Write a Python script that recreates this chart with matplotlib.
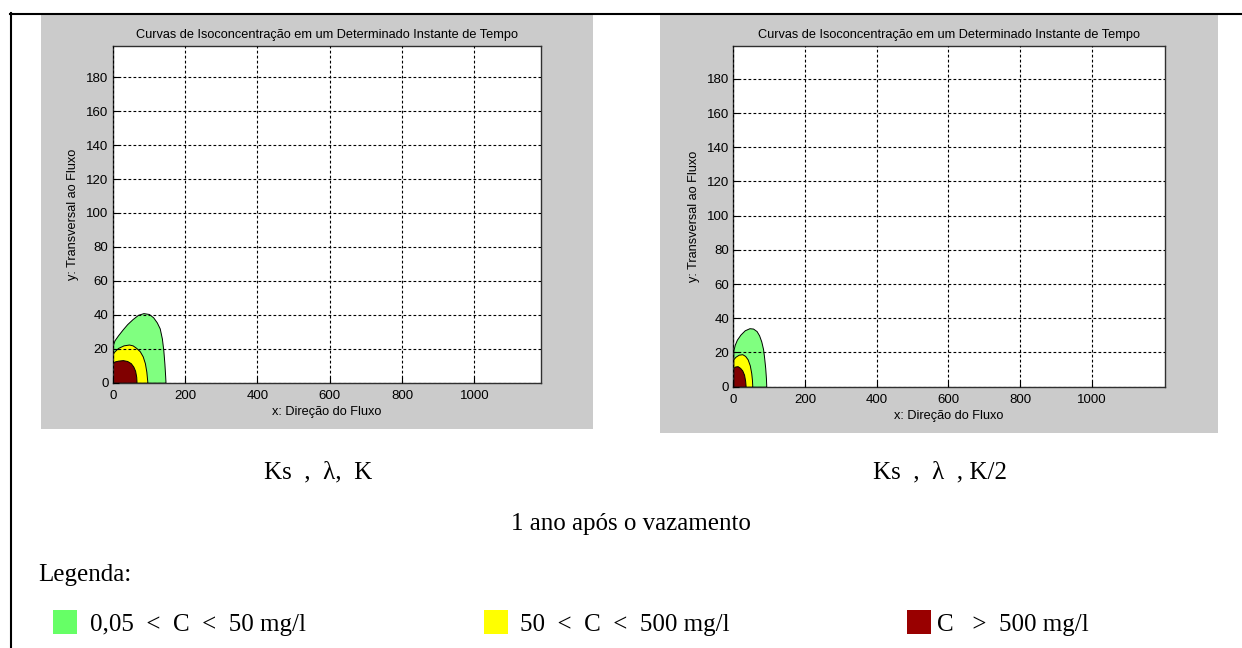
import matplotlib
matplotlib.use('Agg')
import matplotlib.pyplot as plt
from matplotlib.patches import Rectangle
from matplotlib.lines import Line2D

W, H = 1242, 648

# plume outlines (x, y) -- left panel: Ks, lambda, K
left_green_x = [0, 5, 15, 28, 40, 55, 70, 85, 100, 112, 122, 130, 136, 140, 143, 145, 146]
left_green_y = [22, 25, 28, 31.5, 34.5, 37.5, 40, 41, 40.5, 38.5, 35.5, 32, 26, 19, 11, 4, 0]
left_yellow_x = [0, 5, 15, 30, 45, 55, 65, 75, 83, 89, 93, 95, 96]
left_yellow_y = [17, 18.5, 20.5, 22, 22.5, 22, 20.5, 18.5, 15.5, 11.5, 6.5, 2, 0]
left_red_x = [0, 5, 15, 28, 40, 50, 57, 62, 65, 66]
left_red_y = [11.5, 12.5, 13, 13.3, 12.8, 11.5, 9.5, 7, 3.5, 0]

# right panel: Ks, lambda, K/2
right_green_x = [0, 4, 10, 20, 32, 45, 55, 65, 72, 78, 83, 86, 89, 91, 92]
right_green_y = [21, 24.5, 27.5, 30.5, 33, 34.2, 34, 32.5, 30, 26.5, 22, 17, 11, 5, 0]
right_yellow_x = [0, 6, 15, 25, 33, 40, 46, 50, 52, 53]
right_yellow_y = [16, 17.5, 18.7, 19, 18, 16, 12.5, 8, 4, 0]
right_red_x = [0, 5, 12, 19, 25, 30, 33, 34.5]
right_red_y = [11, 11.8, 12, 11, 9.5, 7, 3.5, 0]

xticks = [0, 200, 400, 600, 800, 1000]
yticks = [0, 20, 40, 60, 80, 100, 120, 140, 160, 180]

title = 'Curvas de Isoconcentração em um Determinado Instante de Tempo'
captions = ['Ks  ,  λ,  K', 'Ks  ,  λ  , K/2']
subtitle = '1 ano após o vazamento'
legend_labels = ['0,05  <  C  <  50 mg/l', '50  <  C  <  500 mg/l', 'C   >  500 mg/l']
legend_colors = ['#66ff66', '#ffff00', '#990000']

fill_green = '#80ff80'
fill_yellow = '#ffff00'
fill_red = '#800000'


def fx(px):
    return px / W


def fy(py):
    return 1 - py / H


def panel(fig, box, ax_box, xmax, ymax, plumes):
    # gray matlab figure background
    x0, y0, x1, y1 = box
    fig.add_artist(Rectangle((fx(x0), fy(y1)), fx(x1 - x0), (y1 - y0) / H,
                             transform=fig.transFigure, facecolor='#cbcbcb',
                             edgecolor='none', zorder=0))
    a0, b0, a1, b1 = ax_box
    ax = fig.add_axes([fx(a0), fy(b1), fx(a1 - a0), (b1 - b0) / H])
    ax.set_facecolor('white')
    for xs, ys, c in plumes:
        ax.fill_between(xs, 0, ys, facecolor=c, edgecolor='black', linewidth=0.7, zorder=2)
    ax.set_xlim(0, xmax)
    ax.set_ylim(0, ymax)
    ax.set_xticks(xticks)
    ax.set_yticks(yticks)
    ax.grid(True, color='black', linestyle=(0, (2.5, 2)), linewidth=0.8, zorder=3)
    ax.set_axisbelow(False)
    ax.tick_params(direction='in', length=4, labelsize=9.5, colors='black')
    ax.tick_params(axis='x', pad=5)
    ax.tick_params(axis='y', pad=3)
    for s in ax.spines.values():
        s.set_color('#303030')
        s.set_linewidth(1.0)
    ax.set_title(title, fontsize=9.2, pad=6)
    ax.set_xlabel('x: Direção do Fluxo', fontsize=9.2, labelpad=3)
    ax.set_ylabel('y: Transversal ao Fluxo', fontsize=9.2, labelpad=5)
    return ax


plt.rcParams['font.family'] = ['Liberation Sans', 'DejaVu Sans']
fig = plt.figure(figsize=(W / 100, H / 100), dpi=100)
fig.patch.set_facecolor('white')

panel(fig, (41, 15, 593, 429), (112.7, 46, 541, 382.7), 1184, 198.4,
      [(left_green_x, left_green_y, fill_green),
       (left_yellow_x, left_yellow_y, fill_yellow),
       (left_red_x, left_red_y, fill_red)])
panel(fig, (660, 15, 1218, 433), (733.3, 46, 1165, 386.7), 1204, 199.2,
      [(right_green_x, right_green_y, fill_green),
       (right_yellow_x, right_yellow_y, fill_yellow),
       (right_red_x, right_red_y, fill_red)])

# page border
fig.add_artist(Line2D([fx(11), fx(11)], [fy(13), fy(648)], transform=fig.transFigure,
                      color='black', linewidth=1.5))
fig.add_artist(Line2D([fx(10), fx(1242)], [fy(14), fy(14)], transform=fig.transFigure,
                      color='black', linewidth=1.5))

serif = ['Liberation Serif', 'DejaVu Serif']
FS = 18

fig.text(fx(318), fy(478), captions[0], family=serif, fontsize=FS, ha='center', va='baseline')
fig.text(fx(940), fy(478), captions[1], family=serif, fontsize=FS, ha='center', va='baseline')
fig.text(fx(631), fy(530), subtitle, family=serif, fontsize=FS, ha='center', va='baseline')
fig.text(fx(38), fy(581), 'Legenda:', family=serif, fontsize=FS, ha='left', va='baseline')

sq_x = [53, 484, 907]
txt_x = [90, 520, 937]
for i in range(3):
    fig.add_artist(Rectangle((fx(sq_x[i]), fy(634)), fx(24), 24 / H, transform=fig.transFigure,
                             facecolor=legend_colors[i], edgecolor='none'))
    fig.text(fx(txt_x[i]), fy(631), legend_labels[i], family=serif, fontsize=FS,
             ha='left', va='baseline')

fig.savefig('out.png', dpi=100, facecolor='white')
